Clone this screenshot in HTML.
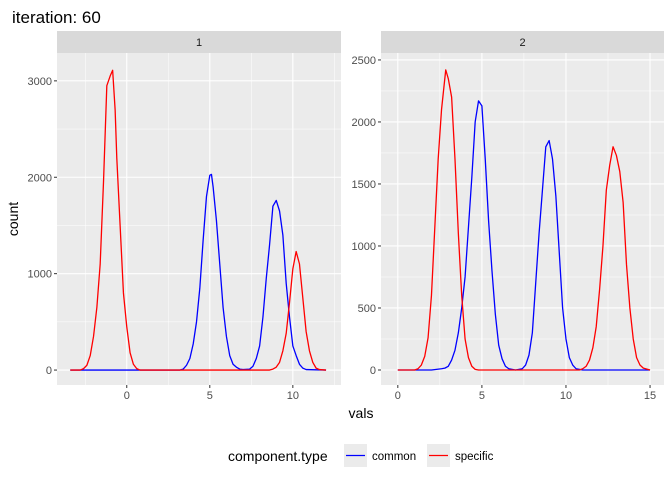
<!DOCTYPE html>
<html><head><meta charset="utf-8"><style>
html,body{margin:0;padding:0;background:#fff;}
svg{display:block;font-family:"Liberation Sans",sans-serif;}
</style></head><body>
<svg id="chart" width="672" height="480" viewBox="0 0 672 480">
<text x="12" y="23" font-size="17" fill="#000">iteration: 60</text>
<g id="p1"></g>
<g id="p2"></g>
<text x="361" y="418" font-size="14" text-anchor="middle">vals</text>
<text transform="translate(18,219) rotate(-90)" font-size="14" text-anchor="middle">count</text>
<g>
<text x="228" y="461" font-size="14">component.type</text>
<rect x="344" y="444" width="23" height="23" fill="#ebebeb"/>
<line x1="346" y1="455.5" x2="365" y2="455.5" stroke="#0000ff" stroke-width="1.3"/>
<text x="372" y="460" font-size="11.5">common</text>
<rect x="427" y="444" width="23" height="23" fill="#ebebeb"/>
<line x1="429" y1="455.5" x2="448" y2="455.5" stroke="#ff0000" stroke-width="1.3"/>
<text x="455" y="460" font-size="11.5">specific</text>
</g>
</svg>
<script>
// Panel 1 data
const p1SpecX=[-3.4,-2.8,-2.6,-2.4,-2.2,-2.0,-1.8,-1.6,-1.4,-1.2,-1.0,-0.85,-0.7,-0.6,-0.4,-0.2,0,0.2,0.4,0.6,0.8,8.6,8.8,9.0,9.2,9.4,9.6,9.8,10.0,10.2,10.4,10.6,10.8,11.0,11.2,11.4,11.6,12.0];
const p1SpecY=[0,0,15,50,150,350,650,1100,1950,2950,3050,3110,2700,2200,1500,800,450,180,60,15,0,0,10,30,80,200,380,700,1050,1230,1100,750,400,200,80,20,5,0];
const p1CommX=[-3.4,3.2,3.4,3.6,3.8,4.0,4.2,4.4,4.6,4.8,5.0,5.1,5.2,5.4,5.6,5.8,6.0,6.2,6.4,6.6,6.8,7.0,7.4,7.6,7.8,8.0,8.2,8.4,8.6,8.8,9.0,9.2,9.4,9.6,9.8,10.0,10.2,10.4,10.6,10.8,12.0];
const p1CommY=[0,0,10,50,120,270,500,850,1350,1800,2020,2030,1900,1550,1100,650,350,150,60,30,10,5,10,40,120,250,550,950,1300,1700,1760,1650,1400,900,550,250,150,60,20,5,0];
// Panel 2 data
const p2SpecX=[0,1.0,1.2,1.4,1.6,1.8,2.0,2.2,2.4,2.6,2.85,3.0,3.2,3.4,3.6,3.8,4.0,4.2,4.4,4.6,4.8,10.8,11.0,11.2,11.4,11.6,11.8,12.0,12.2,12.4,12.6,12.8,13.0,13.2,13.4,13.6,13.8,14.0,14.2,14.4,14.6,15.0];
const p2SpecY=[0,0,10,40,110,260,600,1150,1700,2100,2420,2350,2200,1700,1100,600,250,100,30,5,0,0,10,30,80,180,350,650,1000,1450,1650,1800,1730,1600,1350,850,500,250,100,40,15,0];
const p2CommX=[0,2.0,2.6,2.8,3.0,3.2,3.4,3.6,3.8,4.0,4.2,4.4,4.6,4.8,5.0,5.2,5.4,5.6,5.8,6.0,6.2,6.4,6.6,7.0,7.4,7.6,7.8,8.0,8.2,8.4,8.6,8.8,9.0,9.2,9.4,9.6,9.8,10.0,10.2,10.4,10.6,11.0,15.0];
const p2CommY=[0,0,10,15,30,80,160,300,500,750,1150,1550,2000,2170,2130,1700,1200,800,450,200,90,30,10,0,10,40,120,300,700,1100,1450,1800,1850,1700,1400,950,500,250,100,40,10,0,0];
const p1XTicks=[0,5,10], p1YTicks=[0,1000,2000,3000];
const p2XTicks=[0,5,10,15], p2YTicks=[0,500,1000,1500,2000,2500];

const NS="http://www.w3.org/2000/svg";
function mk(parent,tag,attrs){const e=document.createElementNS(NS,tag);for(const k in attrs)e.setAttribute(k,attrs[k]);parent.appendChild(e);return e;}

function panel(g,label,L,R,xmin,xmax,ymin,ymax,xt,yt,series){
  const T=53,B=385;
  const sx=v=>L+(v-xmin)/(xmax-xmin)*(R-L);
  const sy=v=>B-(v-ymin)/(ymax-ymin)*(B-T);
  const strip=mk(g,'rect',{x:L,y:31,width:R-L,height:22,fill:'#d9d9d9'});
  
  
  const st=mk(g,'text',{x:(L+R)/2,y:46,'font-size':11,'text-anchor':'middle',fill:'#1a1a1a'});
  st.textContent=label;
  
  
  const bg=mk(g,'rect',{x:L,y:T,width:R-L,height:B-T,fill:'#ebebeb'});
  
  
  const dx=xt[1]-xt[0], dy=yt[1]-yt[0];
  for(let v=xt[0]-dx/2;v<=xmax;v+=dx){ if(v>=xmin) mk(g,'line',{x1:sx(v),x2:sx(v),y1:T,y2:B,stroke:'#fff','stroke-width':0.5}); }
  for(let v=yt[0]-dy/2;v<=ymax;v+=dy){ if(v>=ymin) mk(g,'line',{x1:L,x2:R,y1:sy(v),y2:sy(v),stroke:'#fff','stroke-width':0.5}); }
  xt.forEach(v=>{
    mk(g,'line',{x1:sx(v),x2:sx(v),y1:T,y2:B,stroke:'#fff','stroke-width':1.1});
    mk(g,'line',{x1:sx(v),x2:sx(v),y1:B,y2:B+3,stroke:'#333','stroke-width':1});
    const t=mk(g,'text',{x:sx(v),y:B+14,'font-size':11,'text-anchor':'middle',fill:'#4d4d4d'});
    t.textContent=v;
    
    
  });
  yt.forEach(v=>{
    mk(g,'line',{x1:L,x2:R,y1:sy(v),y2:sy(v),stroke:'#fff','stroke-width':1.1});
    mk(g,'line',{x1:L-3,x2:L,y1:sy(v),y2:sy(v),stroke:'#333','stroke-width':1});
    const t=mk(g,'text',{x:L-5,y:sy(v)+4,'font-size':11,'text-anchor':'end',fill:'#4d4d4d'});
    t.textContent=v;
    
    
  });
  series.forEach(s=>{
    const d=s.x.map((v,i)=>(i?'L':'M')+sx(v).toFixed(2)+','+sy(s.y[i]).toFixed(2)).join('');
    const p=mk(g,'path',{d:d,fill:'none',stroke:s.c,'stroke-width':1.3,'stroke-linejoin':'round'});
    
    
  });
}
panel(document.getElementById('p1'),'1',57,341,-4.2,12.9,-155,3289,p1XTicks,p1YTicks,[
  {x:p1CommX,y:p1CommY,c:'#0000ff',n:'line-common-1'},
  {x:p1SpecX,y:p1SpecY,c:'#ff0000',n:'line-specific-1'}]);
panel(document.getElementById('p2'),'2',381,664,-1.0,15.83,-121,2556,p2XTicks,p2YTicks,[
  {x:p2CommX,y:p2CommY,c:'#0000ff',n:'line-common-2'},
  {x:p2SpecX,y:p2SpecY,c:'#ff0000',n:'line-specific-2'}]);
</script>
</body></html>
